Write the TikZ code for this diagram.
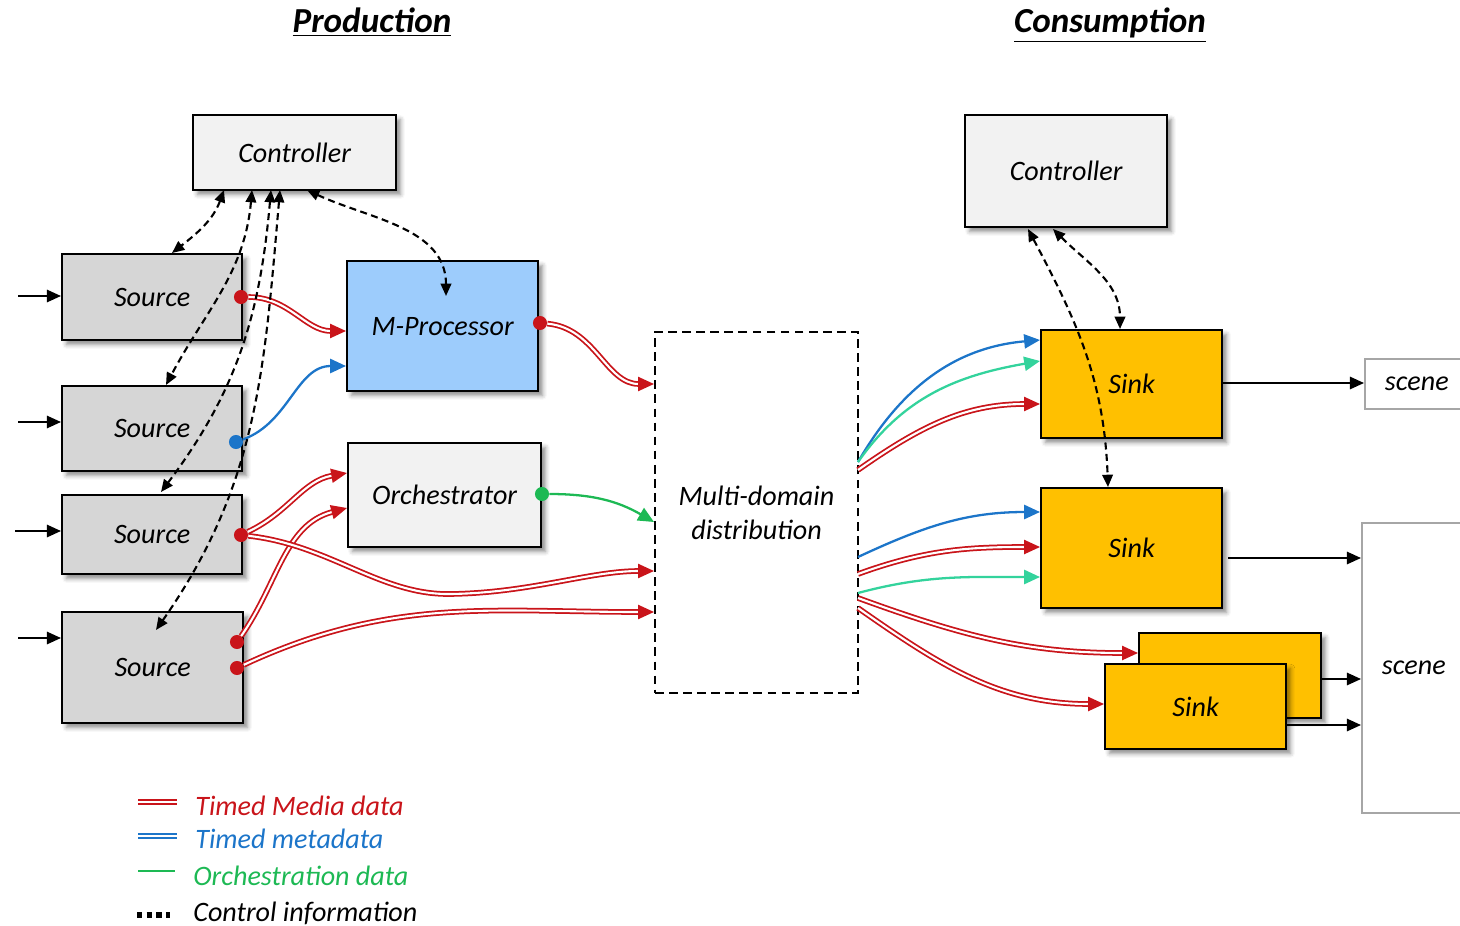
\documentclass[tikz,border=0pt]{standalone}
\usepackage{fontspec}
\setmainfont{Carlito}
\usetikzlibrary{arrows.meta}
\usetikzlibrary{shadows.blur}

\definecolor{ctlgray}{HTML}{F2F2F2}
\definecolor{srcgray}{HTML}{D6D6D6}
\definecolor{procblue}{HTML}{9DCCFC}
\definecolor{sinkgold}{HTML}{FFC000}
\definecolor{mediared}{HTML}{C9141A}
\definecolor{metablue}{HTML}{1C75C9}
\definecolor{orchgreen}{HTML}{1DB954}
\definecolor{syncgreen}{HTML}{33D39C}
\definecolor{scenegray}{HTML}{A6A6A6}

\begin{document}
\begin{tikzpicture}[
  x=0.02cm, y=-0.02cm,
  font=\fontsize{16}{19.4}\selectfont\itshape,
  box/.style={draw=black, line width=1.3pt, anchor=north west, inner sep=0pt,
    blur shadow={shadow xshift=2.5pt, shadow yshift=-2.5pt, shadow blur radius=2.5pt, shadow opacity=45}},
  ctlbox/.style={box, fill=ctlgray},
  srcbox/.style={box, fill=srcgray, minimum width=3.6cm},
  sinkbox/.style={box, fill=sinkgold, minimum width=3.62cm},
  scenebox/.style={draw=scenegray, line width=1.1pt, anchor=north west, fill=white,
    inner xsep=0.4cm, inner ysep=0pt, text width=3cm, align=left},
  media/.style={draw=mediared, double=white, line width=1pt, double distance=1.2pt,
    -{Triangle[length=9pt, width=8pt]}},
  meta/.style={draw=metablue, line width=1.3pt, -{Triangle[length=9pt, width=8pt]}},
  orch/.style={draw=orchgreen, line width=1.3pt, -{Triangle[length=9pt, width=8pt]}},
  sync/.style={draw=syncgreen, line width=1.3pt, -{Triangle[length=9pt, width=8pt]}},
  ctrl/.style={black, line width=1.2pt, dash pattern=on 4pt off 2.5pt,
    {Triangle[length=7pt, width=6pt]}-{Triangle[length=7pt, width=6pt]}},
  feed/.style={black, line width=1.1pt, -{Triangle[length=8pt, width=7pt]}},
  port/.style={circle, fill=#1, inner sep=0pt, minimum size=8pt},
  headline/.style={anchor=base, font=\fontsize{20}{24}\selectfont\bfseries\itshape},
  legend/.style={anchor=west, inner sep=0pt}
]

\clip (0,0) rectangle (1460,926);

% Headings
\node[headline] (prod) at (372,33) {\underline{Production}};
\node[headline] (cons) at (1110,33) {\underline{Consumption}};

% Production side
\node[ctlbox, minimum width=4.06cm, minimum height=1.5cm] (ctlL) at (192,114) {Controller};
\node[srcbox, minimum height=1.72cm] (src1) at (61,253) {Source};
\node[srcbox, minimum height=1.7cm] (src2) at (61,385) {Source};
\node[srcbox, minimum height=1.58cm] (src3) at (61,494) {Source};
\node[srcbox, minimum width=3.62cm, minimum height=2.22cm] (src4) at (61,611) {Source};
\node[box, fill=procblue, minimum width=3.82cm, minimum height=2.6cm] (mproc) at (346,260) {M-Processor};
\node[ctlbox, minimum width=3.86cm, minimum height=2.08cm] (orchestr) at (347,442) {Orchestrator};

% Distribution in the middle
\node[draw, line width=1.2pt, dash pattern=on 5pt off 3pt, anchor=north west,
  minimum width=4.06cm, minimum height=7.22cm, align=center] (dist) at (654,331) {Multi-domain\\distribution};

% Consumption side
\node[ctlbox, minimum width=4.04cm, minimum height=2.24cm] (ctlR) at (964,114) {Controller};
\node[sinkbox, minimum height=2.16cm] (snk1) at (1040,329) {Sink};
\node[sinkbox, minimum height=2.4cm] (snk2) at (1040,487) {Sink};
\node[sinkbox, minimum width=3.64cm, minimum height=1.7cm] (snk3) at (1138,632) {};
\node[sinkbox, minimum height=1.7cm] (snk4) at (1104,663) {Sink};
\node[scenebox, minimum height=1cm] (scene1) at (1364,358) {scene};
\node[scenebox, minimum height=5.8cm] (scene2) at (1361,522) {scene};

% Output ports
\node[port=mediared] (s1o) at (241,297) {};
\node[port=metablue] (s2o) at (236,442) {};
\node[port=mediared] (s3o) at (241,535) {};
\node[port=mediared] (s4a) at (237,642) {};
\node[port=mediared] (s4b) at (237,668) {};
\node[port=mediared] (po) at (540,323) {};
\node[port=orchgreen] (oo) at (542,494) {};

% Inlets
\coordinate (pm1) at (346,331);
\coordinate (pm2) at (346,366);
\coordinate (po1) at (347,473);
\coordinate (po2) at (347,508);
\coordinate (pd1) at (654,384);
\coordinate (pd2) at (654,522);
\coordinate (pd3) at (654,571);
\coordinate (pd4) at (654,612);
\coordinate (dq1) at (858,462);
\coordinate (dq2) at (858,470);
\coordinate (dq3) at (858,557);
\coordinate (dq4) at (858,574);
\coordinate (dq5) at (858,593);
\coordinate (dq6) at (858,598);
\coordinate (dq7) at (858,608);
\coordinate (k1a) at (1040,340);
\coordinate (k1b) at (1040,361);
\coordinate (k1c) at (1040,404);
\coordinate (k2a) at (1040,512);
\coordinate (k2b) at (1040,547);
\coordinate (k2c) at (1040,577);
\coordinate (k3a) at (1138,653);
\coordinate (k4a) at (1104,704);

% Inputs and scene outputs
\coordinate (in1) at (18,296);
\coordinate (in2) at (18,422);
\coordinate (in3) at (15,531);
\coordinate (in4) at (18,638);
\coordinate (k1o) at (1221,383);
\coordinate (k2o) at (1228,558);
\coordinate (k3o) at (1320,679);
\coordinate (k4o) at (1285,725);

\draw[feed] (in1) -- (in1 -| src1.west);
\draw[feed] (in2) -- (in2 -| src2.west);
\draw[feed] (in3) -- (in3 -| src3.west);
\draw[feed] (in4) -- (in4 -| src4.west);
\draw[feed] (k1o) -- (k1o -| scene1.west);
\draw[feed] (k2o) -- (k2o -| scene2.west);
\draw[feed] (k3o) -- (k3o -| scene2.west);
\draw[feed] (k4o) -- (k4o -| scene2.west);

% Production flows
\draw[media] (s1o) to[out=0, in=180] (pm1);
\draw[meta] (s2o) to[out=20, in=180] (pm2);
\draw[media] (s3o) to[out=25, in=190] (po1);
\draw[media] (s4a) to[out=55, in=195] (po2);
\draw[media] (po) to[out=-5, in=180] (pd1);
\draw[orch] (oo) to[out=0, in=150] (pd2);
\draw[media] (s3o) .. controls (330,545) and (380,595) .. (450,594)
  .. controls (530,593) and (590,571) .. (pd3);
\draw[media] (s4b) to[out=25, in=180] (pd4);

% Consumption flows
\draw[meta] (dq1) to[out=60, in=185] (k1a);
\draw[sync] (dq1) to[out=55, in=190] (k1b);
\draw[media] (dq2) to[out=35, in=180] (k1c);
\draw[meta] (dq3) to[out=25, in=180] (k2a);
\draw[media] (dq4) to[out=20, in=180] (k2b);
\draw[sync] (dq5) to[out=15, in=180] (k2c);
\draw[media] (dq6) to[out=-20, in=180] (k3a);
\draw[media] (dq7) to[out=-35, in=180] (k4a);

% Control information
\coordinate (cl1) at (224,190);
\coordinate (cl2) at (252,190);
\coordinate (cl3) at (271,190);
\coordinate (cl4) at (280,190);
\coordinate (cl5) at (307,190);
\coordinate (t1) at (172,253);
\coordinate (t2) at (166,385);
\coordinate (t3) at (161,492);
\coordinate (t4) at (156,630);
\coordinate (t5) at (446,296);
\coordinate (cr1) at (1028,229);
\coordinate (cr2) at (1053,229);
\coordinate (kt1) at (1120,329);
\coordinate (kt2) at (1108,487);

\draw[ctrl] (cl1) to[out=-110, in=38] (t1);
\draw[ctrl] (cl2) to[out=-95, in=62] (t2);
\draw[ctrl] (cl3) to[out=-95, in=53] (t3);
\draw[ctrl] (cl4) to[out=-95, in=55] (t4);
\draw[ctrl] (cl5) to[out=-25, in=90] (t5);
\draw[ctrl] (cr1) to[out=-62, in=92] (kt2);
\draw[ctrl] (cr2) to[out=-45, in=90] (kt1);

% Legend
\draw[draw=mediared, double=white, line width=1pt, double distance=1.2pt] (138,802) -- (177,802);
\draw[draw=metablue, double=white, line width=1pt, double distance=1.2pt] (138,836) -- (177,836);
\draw[orchgreen, line width=1.3pt] (138,871) -- (175,871);
\draw[black, line width=3pt, dash pattern=on 3pt off 2.5pt] (137,915) -- (170,915);
\node[legend, text=mediared] (lg1) at (195,806) {Timed Media data};
\node[legend, text=metablue] (lg2) at (195,839) {Timed metadata};
\node[legend, text=orchgreen] (lg3) at (193,876) {Orchestration data};
\node[legend] (lg4) at (193,913) {Control information};

\end{tikzpicture}
\end{document}
